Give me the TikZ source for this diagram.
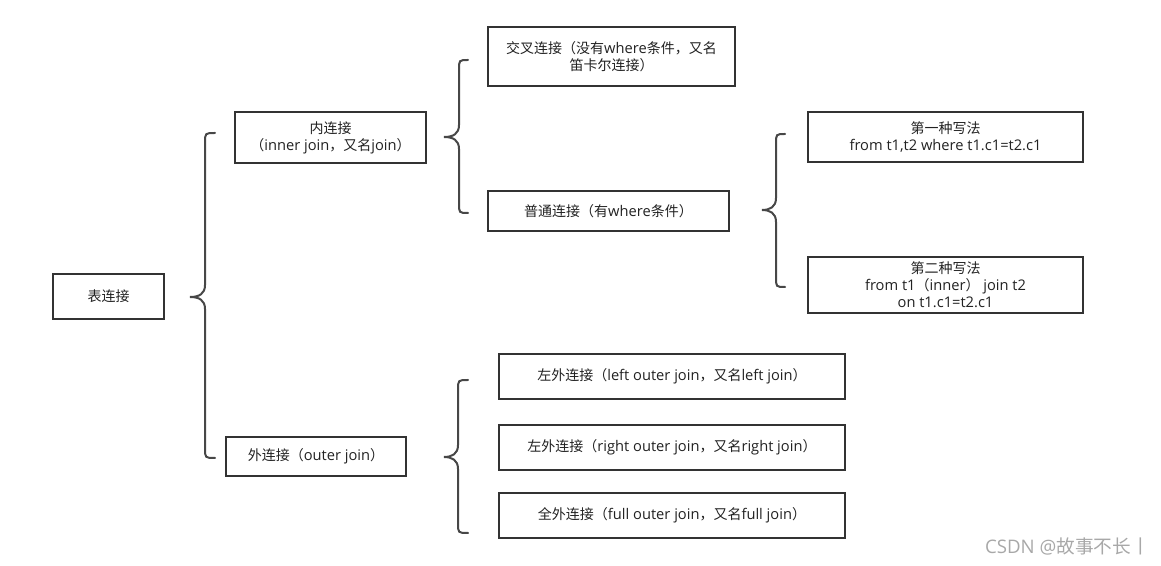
\documentclass[tikz,border=0pt]{standalone}
\usepackage{fontspec}
\setmainfont{Open Sans}
\newfontfamily\cjkf{Noto Sans CJK SC}
\newcommand\cj[1]{{\cjkf\fontsize{10.5}{12.75}\selectfont #1}}
\definecolor{linec}{HTML}{333333}
\definecolor{txtc}{HTML}{222222}
\definecolor{wmc}{HTML}{A8A8A8}
\newcommand\curlyb[6]{%
  \draw[bracel] (#3,#4) .. controls (#2,#4) .. (#2,#4+10) -- (#2,#5-12)
    .. controls (#2,#5-3) and (#2-6,#5) .. (#1,#5)
    .. controls (#2-6,#5) and (#2,#5+3) .. (#2,#5+12) -- (#2,#6-10)
    .. controls (#2,#6) .. (#3,#6);}
\begin{document}
\begin{tikzpicture}[x=0.75pt,y=-0.75pt,
  box/.style={draw=linec,line width=1.5pt,fill=white,inner sep=0pt,align=center,
    text=txtc,font=\fontsize{11}{12.75}\selectfont},
  bracel/.style={draw=linec!90,line width=1.5pt,line cap=round}]
\useasboundingbox (0,0) rectangle (1161,566);
\node[box,minimum width=111*0.75pt,minimum height=45*0.75pt] (root) at (108.5,296.5) {\cj{表连接}};
\node[box,minimum width=191*0.75pt,minimum height=51*0.75pt] (inner) at (330.5,137.5) {\cj{内连接}\\\cj{（}inner join\cj{，又名}join\cj{）}};
\node[box,minimum width=180*0.75pt,minimum height=39*0.75pt] (outer) at (316,456.5) {\cj{外连接（}outer join\cj{）}};
\node[box,minimum width=247*0.75pt,minimum height=59*0.75pt] (cross) at (611.5,56.5) {\cj{交叉连接（没有}where\cj{条件，又名}\\\cj{笛卡尔连接）}};
\node[box,minimum width=241*0.75pt,minimum height=40*0.75pt] (normal) at (608.5,211) {\cj{普通连接（有}where\cj{条件）}};
\node[box,minimum width=275*0.75pt,minimum height=50*0.75pt] (wone) at (945.5,137) {\cj{第一种写法}\\from t1,t2 where t1.c1=t2.c1};
\node[box,minimum width=275*0.75pt,minimum height=56*0.75pt] (wtwo) at (945.5,285) {\cj{第二种写法}\\from t1\cj{（}inner\cj{）} join t2\\on t1.c1=t2.c1};
\node[box,minimum width=346*0.75pt,minimum height=45*0.75pt] (left) at (672,376.5) {\cj{左外连接（}left outer join\cj{，又名}left join\cj{）}};
\node[box,minimum width=346*0.75pt,minimum height=45*0.75pt] (right) at (672,447.5) {\cj{左外连接（}right outer join\cj{，又名}right join\cj{）}};
\node[box,minimum width=346*0.75pt,minimum height=45*0.75pt] (full) at (672,515.5) {\cj{全外连接（}full outer join\cj{，又名}full join\cj{）}};
\curlyb{190}{205}{215}{133}{297}{458}
\curlyb{444}{459}{468}{60}{137}{213}
\curlyb{762}{776}{785}{134}{210}{287}
\curlyb{444}{458}{468}{380}{457}{533}
\node[text=wmc,font=\fontsize{14}{16}\selectfont,anchor=east,inner sep=0pt] (wm) at (1150,547) {CSDN @\cj{\fontsize{14}{16}\selectfont 故事不长丨}};
\end{tikzpicture}
\end{document}
